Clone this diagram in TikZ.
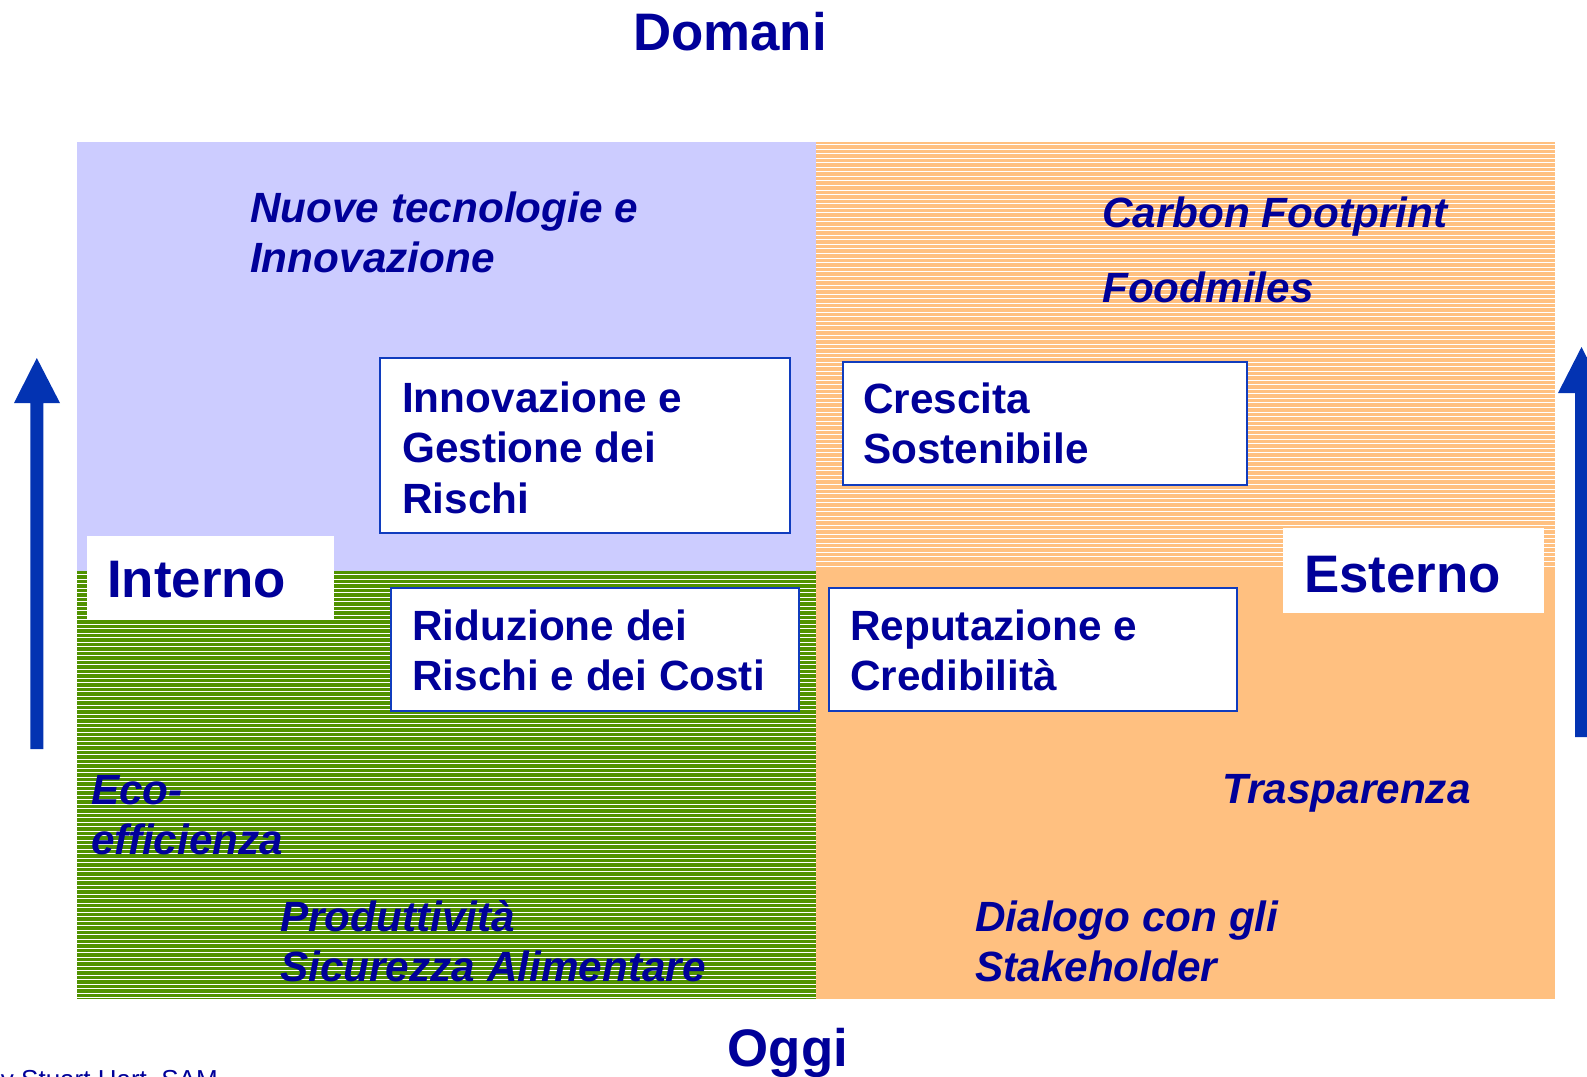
\documentclass[tikz,border=0pt]{standalone}
\usepackage{fontspec}
\setmainfont{Liberation Sans}
\definecolor{txt}{RGB}{0,0,153}
\definecolor{lav}{RGB}{204,204,255}
\definecolor{org}{RGB}{255,192,128}
\definecolor{grn}{RGB}{80,146,0}
\definecolor{bord}{RGB}{16,60,190}
\definecolor{arrc}{RGB}{3,51,178}
\tikzset{
  big/.style={font=\fontsize{52.8}{60}\selectfont\bfseries, text=txt, inner sep=0pt, anchor=base west},
  mid/.style={font=\fontsize{42.3}{50.5}\selectfont\bfseries, text=txt, inner sep=0pt, anchor=base west},
  ital/.style={font=\fontsize{42.3}{50.5}\selectfont\bfseries\itshape, text=txt, inner sep=0pt, anchor=base west},
  small/.style={font=\fontsize{26}{30}\selectfont, text=txt, inner sep=0pt, anchor=base west},
  boxnode/.style={draw=bord, line width=2pt, fill=white, anchor=north west, inner sep=0pt, outer sep=0pt},
  lblbox/.style={fill=white, anchor=north west, inner sep=0pt, outer sep=0pt},
  stripe/.style={white, line width=0.9pt}
}
\begin{document}
\begin{tikzpicture}[x=1pt, y=-1pt]
\useasboundingbox (0,0) rectangle (1587,1076);
\clip (0,0) rectangle (1587,1076);
% quadrants
\fill[lav] (77,142) rectangle (816,571);
\fill[org] (816,142) rectangle (1555,570);
\foreach \i in {0,...,93} {
  \pgfmathsetmacro\yy{144.7+4.53*\i}
  \draw[stripe] (816,\yy) -- (1555,\yy);
}
\fill[grn] (77,571) rectangle (816,999);
\foreach \i in {0,...,94} {
  \pgfmathsetmacro\yy{574.5+4.5*\i}
  \draw[stripe, line width=0.8pt] (77,\yy) -- (816,\yy);
}
\fill[org] (816,570) rectangle (1555,999);
% label boxes
\node[lblbox, minimum width=247pt, minimum height=83pt] (intbox) at (87,536) {};
\node[lblbox, minimum width=261pt, minimum height=85pt] (estbox) at (1283,528) {};
% framed boxes
\node[boxnode, minimum width=409.5pt, minimum height=175pt] (b1) at (380,358) {};
\node[boxnode, minimum width=404pt, minimum height=123.6pt] (b2) at (842.8,361.7) {};
\node[boxnode, minimum width=408pt, minimum height=123pt] (b3) at (829,588) {};
\node[boxnode, minimum width=407.5pt, minimum height=123pt] (b4) at (391,588) {};
% box texts
\node[mid] (t1) at (402,412) {\vtop{\hbox{Innovazione e}\hbox{Gestione dei}\hbox{Rischi}}};
\node[mid] (t2) at (863,413) {\vtop{\hbox{Crescita}\hbox{Sostenibile}}};
\node[mid] (t3) at (850,640) {\vtop{\hbox{Reputazione e}\hbox{Credibilità}}};
\node[mid] (t4) at (412,640) {\vtop{\hbox{Riduzione dei}\hbox{Rischi e dei Costi}}};
% big labels
\node[big, anchor=base] (domani) at (730,50) {Domani};
\node[big, anchor=base] (oggi) at (788,1066) {Oggi};
\node[big] (interno) at (107,597) {Interno};
\node[big] (esterno) at (1304,592) {Esterno};
% italic texts
\node[ital] (nuove) at (250,222) {\vtop{\hbox{Nuove tecnologie e}\hbox{Innovazione}}};
\node[ital] (carbon) at (1102,227) {Carbon Footprint};
\node[ital] (food) at (1102,302) {Foodmiles};
\node[ital] (trasp) at (1222,803) {Trasparenza};
\node[ital] (dialogo) at (975,931) {\vtop{\hbox{Dialogo con gli}\hbox{Stakeholder}}};
\node[ital] (eco) at (91,804) {\vtop{\hbox{Eco-}\hbox{efficienza}}};
\node[ital] (prod) at (280,931) {\vtop{\hbox{Produttività}\hbox{Sicurezza Alimentare}}};
% source (cut off at the page edge, as in the reference)
\node[small] (source) at (0.8,1088) {y Stuart Hart, SAM};
% arrows
\fill[arrc] (30.3,749) -- (30.3,403) -- (14,403) -- (36.8,358) -- (60,403) -- (43.3,403) -- (43.3,749) -- cycle;
\fill[arrc] (1575,737) -- (1575,393) -- (1558,393) -- (1581.5,347) -- (1605,393) -- (1588,393) -- (1588,737) -- cycle;
\end{tikzpicture}
\end{document}
